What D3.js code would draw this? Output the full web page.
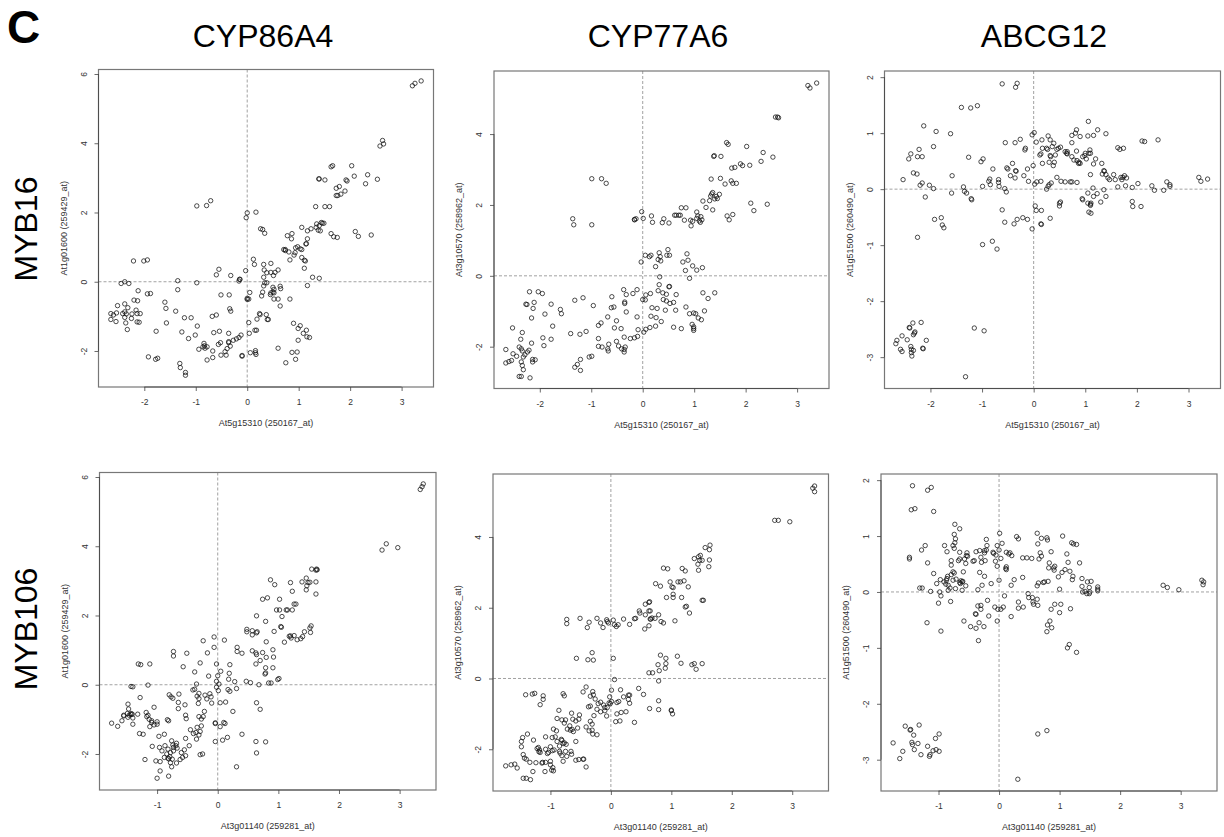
<!DOCTYPE html>
<html>
<head>
<meta charset="utf-8">
<script src="https://cdn.jsdelivr.net/npm/d3@7"></script>
<style>
body { margin: 0; background: #fff; }
text { font-family: "Liberation Sans", Arial, Helvetica, sans-serif; }
</style>
</head>
<body>
<div id="viz"></div>
<script>
var w = 1224;
var h = 837;

// labels
var panelLetter = "C";
var genes = ["CYP86A4", "CYP77A6", "ABCG12"];
var regulators = ["MYB16", "MYB106"];
var xLabels = ["At5g15310 (250167_at)", "At3g01140 (259281_at)"];
var yLabels = ["At1g01600 (259429_at)", "At3g10570 (258962_at)", "At1g51500 (260490_at)"];

// axis limits and ticks
var xTicksByRow = [[-2, -1, 0, 1, 2, 3], [-1, 0, 1, 2, 3]];
var yTicksByCol = [[-2, 0, 2, 4, 6], [-2, 0, 2, 4], [-3, -2, -1, 0, 1, 2]];
var xLimByRow = [[-2.89, 3.62], [-1.95, 3.60]];
var yLimByCol = [[-3.04, 6.13], [-3.18, 5.78], [-3.56, 2.11]];

// MYB16 (At5g15310) vs CYP86A4
var myb16Cyp86a4 = [[3.21,5.66],[3.26,5.73],[3.38,5.80],[2.58,3.92],[2.63,4.08],[2.65,3.98],
[1.63,3.32],[1.66,3.35],[2.03,3.35],[2.08,3.05],[2.34,3.09],[2.30,2.83],[2.53,2.96],
[1.39,2.97],[1.40,2.97],[1.51,2.94],[1.73,2.70],[1.79,2.75],[1.73,2.49],[1.76,2.49],[1.82,2.53],[1.90,2.62],[1.92,2.94],[1.94,2.91],
[1.33,2.17],[1.51,2.17],[1.60,2.17],[1.06,1.57],[1.24,1.53],[1.34,1.57],[1.40,1.62],[1.44,1.71],[1.46,1.69],[1.49,1.69],[1.17,1.47],[1.35,1.67],[1.38,1.49],[1.42,1.47],
[1.63,1.39],[1.68,1.30],[1.75,1.28],[2.10,1.45],[2.16,1.31],[2.41,1.35],[0.78,1.33],[0.87,1.39],[0.86,1.24],[1.17,1.24],[1.14,1.09],[1.15,1.10],
[0.71,0.93],[0.74,0.93],[0.74,0.90],[0.81,0.86],[0.93,0.84],[0.91,0.77],[0.94,0.98],[0.98,1.01],[1.03,0.95],[1.06,0.93],
[0.83,0.63],[1.06,0.70],[1.11,0.62],[1.13,0.60],[1.11,0.39],[1.27,0.13],[1.40,0.10],[1.17,-0.11],
[0.26,1.53],[0.30,1.51],[0.34,1.40],[0.00,1.99],[-0.02,1.85],[0.17,2.01],[-0.98,2.19],[-0.79,2.20],[-0.71,2.34],
[-2.21,0.60],[-2.01,0.60],[-1.94,0.63],[0.12,0.65],[0.14,0.50],[-0.03,0.32],[0.32,0.50],[0.46,0.53],[0.33,0.34],[0.38,0.26],[0.46,0.27],[0.54,0.27],[0.60,0.34],[0.51,0.18],[0.32,0.13],
[0.32,-0.12],[0.34,-0.03],[0.38,-0.03],[0.50,-0.16],[0.52,-0.22],[0.64,-0.13],[0.65,-0.20],
[0.46,-0.32],[0.45,-0.37],[0.50,-0.30],[0.52,-0.32],[0.30,-0.30],[0.28,-0.41],[0.52,-0.50],[0.60,-0.50],[0.64,-0.70],[0.83,-0.50],
[0.00,-0.48],[0.03,-0.50],[0.05,-0.31],[-0.15,0.07],[-0.14,0.07],[-0.16,0.02],
[-0.60,0.20],[-0.55,0.36],[-0.32,0.18],[-1.35,0.03],[-0.98,-0.03],[-0.51,-0.38],[-0.35,-0.38],[-1.35,-0.23],
[-2.45,-0.05],[-2.38,0.00],[-2.30,-0.05],[-2.12,-0.26],[-1.94,-0.35],[-1.88,-0.34],[-2.20,-0.53],[-2.13,-0.55],[-2.52,-0.69],[-2.38,-0.64],
[-2.65,-0.92],[-2.60,-0.96],[-2.54,-0.90],[-2.42,-0.92],[-2.38,-0.87],[-2.35,-0.93],[-2.32,-0.75],[-2.38,-1.03],
[-2.65,-1.09],[-2.55,-1.15],[-2.36,-1.19],[-2.33,-1.38],[-2.25,-1.06],[-2.24,-0.93],[-2.16,-0.82],[-2.14,-0.92],[-2.08,-0.92],[-2.14,-1.16],[-2.10,-1.17],
[-1.60,-0.59],[-1.58,-0.77],[-1.57,-1.19],[-1.39,-0.85],[-1.22,-1.04],[-1.09,-1.04],
[-1.77,-1.43],[-1.27,-1.45],[-1.14,-1.64],[-1.01,-1.54],[-0.97,-1.28],
[-0.68,-1.00],[-0.60,-0.96],[-0.34,-0.78],[-0.32,-0.85],[-0.65,-1.47],[-0.54,-1.43],[-0.36,-1.49],
[-0.84,-1.78],[-0.83,-1.85],[-0.86,-1.88],[-0.94,-1.95],[-0.82,-1.92],[-0.78,-1.88],
[-0.78,-2.26],[-0.67,-2.19],[-0.67,-2.00],[-0.52,-1.76],[-0.56,-1.81],[-0.51,-2.12],
[-0.36,-1.73],[-0.36,-1.76],[-0.33,-1.86],[-0.39,-1.93],[-0.43,-2.02],[-0.41,-2.12],
[-0.27,-1.69],[-0.21,-1.65],[-0.16,-1.61],[-0.12,-1.54],[-0.10,-2.15],[-0.10,-2.13],
[0.04,-1.49],[0.06,-2.05],[0.16,-1.99],[0.17,-2.10],[0.16,-2.05],[0.03,-1.18],[0.15,-1.40],[0.18,-1.40],[0.19,-1.08],
[0.24,-0.92],[0.25,-0.95],[0.37,-0.95],[0.39,-1.09],[0.41,-1.09],[0.60,-1.92],[0.75,-2.34],[0.87,-2.04],[0.97,-2.03],[0.94,-2.24],
[0.90,-1.20],[0.99,-1.35],[1.03,-1.27],[1.09,-1.49],[1.15,-1.40],[1.16,-1.59],[1.21,-1.61],[0.99,-1.69],
[-1.92,-2.17],[-1.78,-2.24],[-1.74,-2.21],[-1.31,-2.36],[-1.30,-2.48],[-1.20,-2.62],[-1.20,-2.70],[0.00,-0.51]];

// MYB16 vs CYP77A6
var myb16Cyp77a6 = [[3.21,5.37],[3.25,5.30],[3.38,5.44],[2.58,4.48],[2.62,4.48],[2.64,4.46],
[1.63,3.76],[1.66,3.71],[2.02,3.65],[2.34,3.48],[2.53,3.35],[2.30,3.23],[1.38,3.37],[1.39,3.39],[1.52,3.37],
[1.90,3.16],[1.94,3.11],[2.08,3.12],[1.73,3.04],[1.79,3.06],[1.33,2.73],[1.51,2.75],[1.72,2.68],[1.60,2.59],[1.75,2.61],[1.82,2.61],
[1.34,2.31],[1.36,2.35],[1.32,2.25],[1.43,2.24],[1.45,2.18],[1.49,2.30],[1.40,2.17],[1.17,2.11],[1.30,2.12],[1.23,1.93],[1.36,1.86],
[2.10,2.05],[2.16,1.84],[2.42,2.02],[1.64,1.69],[1.68,1.58],[1.75,1.73],
[0.75,1.92],[0.84,1.92],[1.05,1.80],[1.07,1.69],[1.10,1.55],[1.12,1.51],[1.15,1.58],[1.13,1.67],[0.94,1.41],[0.97,1.54],[1.05,1.62],[0.93,1.57],
[0.62,1.71],[0.65,1.71],[0.70,1.71],[0.73,1.71],[0.81,1.57],[0.41,1.61],[0.38,1.50],[0.51,1.49],[0.17,1.69],[0.19,1.51],[-0.02,1.81],[0.01,1.62],
[-0.16,1.59],[-0.13,1.61],[-0.16,1.58],[-1.36,1.61],[-1.34,1.44],[-0.99,2.74],[-0.80,2.74],[-0.71,2.61],[-0.99,1.44],
[0.05,0.58],[0.13,0.54],[0.16,0.58],[-0.03,0.39],[0.32,0.65],[0.34,0.54],[0.30,0.46],[0.35,0.42],[0.25,0.26],[0.49,0.74],[0.47,0.58],[0.52,0.58],
[0.86,0.62],[0.88,0.44],[0.78,0.39],[0.83,0.15],[0.91,-0.07],[0.97,0.28],[1.05,0.16],[1.16,0.23],[0.33,-0.03],[0.32,-0.25],[0.51,-0.31],[0.52,-0.30],
[1.17,-0.48],[1.27,-0.64],[1.40,-0.48],[0.30,-0.42],[0.39,-0.48],[0.46,-0.52],[0.65,-0.53],[0.06,-0.54],[0.15,-0.50],[0.00,-0.67],[0.05,-0.68],
[0.40,-0.67],[0.46,-0.71],[0.53,-0.78],[0.60,-0.75],[0.18,-0.90],[0.28,-0.92],[0.44,-0.97],[0.64,-0.97],
[0.84,-0.88],[0.91,-1.07],[0.99,-1.05],[1.03,-1.07],[1.08,-1.19],[1.14,-1.24],[1.20,-0.99],
[0.16,-1.14],[0.26,-1.18],[0.36,-1.29],[0.25,-1.42],[0.14,-1.46],[0.06,-1.51],[0.60,-1.45],[0.75,-1.49],[0.96,-1.37],[0.99,-1.44],[0.99,-1.49],[0.99,-1.54],
[0.02,-1.59],[-0.09,-1.52],[-0.11,-1.16],[-0.11,-0.39],[-0.19,-0.50],[-0.32,-0.53],[-0.37,-0.39],[-0.35,-0.74],[-0.35,-0.78],[-0.32,-1.02],
[-0.60,-0.59],[-0.56,-0.88],[-0.61,-0.90],[-0.68,-1.16],[-0.51,-1.27],[-0.55,-1.47],[-0.42,-1.49],[-0.24,-1.77],[-0.16,-1.75],[-0.10,-1.71],
[-0.51,-1.85],[-0.47,-1.98],[-0.41,-2.06],[-0.36,-1.73],[-0.34,-2.01],[-0.36,-2.08],[-0.36,-2.15],[-1.16,-0.62],[-0.96,-0.84],
[-1.32,-0.69],[-1.40,-1.63],[-1.22,-1.65],[-1.10,-1.57],[-0.86,-1.40],[-0.81,-1.33],[-0.86,-1.77],[-0.86,-1.99],[-0.79,-2.01],[-0.68,-2.06],[-0.67,-2.12],[-0.66,-1.93],
[-1.04,-2.29],[-0.99,-2.27],[-1.32,-2.58],[-1.27,-2.50],[-1.21,-2.36],[-1.21,-2.67],
[-2.20,-0.45],[-2.13,-0.92],[-2.11,-0.75],[-1.95,-0.50],[-2.03,-0.45],[-2.27,-0.80],[-2.25,-0.81],
[-1.90,-1.08],[-1.78,-0.80],[-1.60,-0.95],[-1.58,-1.07],[-1.75,-1.42],[-1.94,-1.75],[-1.92,-1.97],[-1.78,-1.79],
[-2.16,-1.19],[-2.16,-1.90],[-2.34,-1.60],[-2.37,-1.79],[-2.53,-1.47],[-2.66,-2.08],[-2.66,-2.46],[-2.60,-2.42],[-2.55,-2.39],[-2.52,-2.20],
[-2.45,-2.27],[-2.40,-2.01],[-2.36,-2.06],[-2.34,-2.12],[-2.32,-2.29],[-2.29,-2.23],[-2.24,-2.15],[-2.21,-2.10],
[-2.36,-2.43],[-2.34,-2.53],[-2.32,-2.65],[-2.40,-2.84],[-2.36,-2.84],[-2.19,-2.88],[-2.14,-2.36],[-2.09,-2.37],[-2.14,-2.43]];

// MYB16 vs ABCG12
var myb16Abcg12 = [[-0.61,1.88],[-0.35,1.82],[-0.32,1.89],[-1.40,1.46],[-1.22,1.45],[-1.09,1.49],[-2.13,1.13],[-1.89,1.03],[-1.61,0.99],[-1.94,0.76],
[-2.38,0.63],[-2.42,0.54],[-2.22,0.71],[-2.16,0.58],[-2.25,0.58],[-2.33,0.29],[-2.26,0.27],[-2.53,0.17],[-2.16,0.11],[-2.20,0.07],[-2.02,0.07],[-1.94,0.01],[-2.10,-0.14],
[-2.25,-0.86],[-1.92,-0.54],[-1.79,-0.51],[-1.77,-0.64],[-1.74,-0.69],[-1.58,0.24],[-1.59,-0.07],[-1.26,0.57],[-1.36,0.04],[-1.34,-0.04],[-1.30,-0.07],[-1.21,-0.17],[-1.20,-0.19],
[-0.98,0.54],[-1.02,0.49],[-0.99,0.05],[-0.79,0.36],[-0.85,0.18],[-0.87,0.14],[-0.84,0.08],[-0.68,0.17],[-0.68,0.12],[-0.67,0.05],
[-0.99,-0.99],[-0.80,-0.93],[-0.71,-1.07],[-0.61,-0.37],[-0.56,-0.59],[-0.38,-0.62],[-0.32,-0.54],[-0.21,-0.51],[-0.12,-0.54],[-0.03,-0.71],
[-0.55,0.83],[-0.36,0.83],[-0.26,0.89],[-0.16,0.73],[-0.17,0.70],[-0.41,0.46],[-0.52,0.38],[-0.50,0.36],[-0.45,0.24],[-0.35,0.33],[-0.34,0.32],[-0.36,0.20],[-0.19,0.24],
[-0.12,0.36],[-0.10,0.14],[-0.01,0.42],[-0.56,0.01],[-0.53,-0.05],[-0.03,0.97],[0.01,1.01],[0.05,0.84],[0.02,0.09],[0.06,0.13],[0.14,0.14],
[0.03,-0.30],[0.05,-0.38],[0.15,-0.38],[0.14,-0.62],[0.15,-0.63],[0.32,-0.52],
[0.16,0.88],[0.28,0.95],[0.32,0.88],[0.39,0.82],[0.17,0.73],[0.25,0.73],[0.36,0.76],[0.27,0.71],[0.12,0.61],[0.14,0.63],[0.32,0.60],[0.42,0.61],[0.45,0.71],[0.48,0.73],[0.52,0.75],
[0.17,0.46],[0.30,0.48],[0.38,0.42],[0.40,0.48],[0.33,0.58],[0.28,0.05],[0.30,0.08],[0.34,0.11],[0.25,0.00],[0.45,0.21],[0.53,0.14],[0.61,0.13],[0.71,0.13],[0.74,0.13],
[0.50,-0.25],[0.50,-0.30],[0.52,-0.23],[0.61,0.67],[0.64,0.64],[0.65,0.67],[0.65,0.63],[0.74,0.58],
[0.74,0.96],[0.74,0.83],[0.81,1.00],[0.83,1.06],[0.90,0.94],[1.05,0.95],[1.06,1.21],[1.16,0.96],[1.24,1.06],[1.40,0.99],
[0.78,0.52],[0.84,0.51],[0.87,0.46],[0.88,0.48],[0.83,0.68],[0.90,0.46],[0.95,0.58],[0.99,0.60],[1.02,0.54],[1.07,0.64],[1.10,0.64],[1.00,0.64],[1.09,0.70],[1.16,0.45],[1.20,0.54],[0.84,0.12],
[0.94,-0.17],[0.95,-0.19],[1.05,-0.07],[1.05,-0.25],[1.10,-0.27],[1.11,-0.25],[1.10,-0.29],[1.16,-0.13],[1.23,-0.08],[1.30,-0.23],[1.36,-0.01],[1.40,-0.13],[1.10,0.26],[1.15,0.02],
[1.07,-0.41],[1.11,-0.43],[1.32,0.46],[1.36,0.33],[1.37,0.32],[1.33,0.27],[1.40,0.26],[1.44,0.20],[1.47,0.17],[1.55,0.26],[1.58,0.17],[1.69,0.21],
[1.63,0.74],[1.67,0.71],[1.74,0.73],[1.63,0.04],[1.71,0.17],[1.73,0.21],[1.76,0.24],[1.78,0.06],[1.80,0.20],[1.91,0.03],
[1.91,-0.22],[1.92,-0.31],[2.02,0.10],[2.08,-0.31],[2.10,0.86],[2.15,0.85],[2.41,0.88],
[2.29,0.06],[2.34,-0.02],[2.52,-0.02],[2.58,0.13],[2.64,0.08],[2.64,0.05],[3.20,0.21],[3.24,0.14],[3.37,0.18],
[-2.67,-2.76],[-2.65,-2.70],[-2.58,-2.86],[-2.55,-2.90],[-2.55,-2.62],[-2.45,-2.69],[-2.38,-2.81],[-2.37,-2.86],[-2.37,-2.92],[-2.36,-2.98],[-2.33,-2.88],
[-2.33,-2.60],[-2.34,-2.39],[-2.41,-2.47],[-2.40,-2.48],[-2.30,-2.55],[-2.31,-2.57],[-2.18,-2.38],[-2.15,-2.84],[-2.14,-2.85],[-2.08,-2.70],
[-1.15,-2.48],[-0.96,-2.53],[-1.32,-3.35]];

// MYB106 (At3g01140) vs CYP86A4
var myb106Cyp86a4 = [[3.34,5.64],[3.37,5.72],[3.39,5.80],[2.71,3.89],[2.78,4.07],[2.97,3.96],
[1.55,3.34],[1.62,3.31],[1.63,3.34],[1.64,3.32],[1.62,2.97],[1.62,2.62],[1.46,3.08],[1.52,2.96],[1.46,2.74],[1.47,2.86],[1.49,2.95],[1.39,2.97],[1.20,2.95],[1.26,2.33],[1.29,2.33],[1.23,2.70],
[0.87,3.03],[0.94,2.89],[0.74,2.47],[0.82,2.51],[1.02,2.47],[0.97,2.16],[1.02,2.16],[1.13,2.16],[1.15,2.16],[1.23,2.16],[1.06,1.97],
[0.64,1.99],[0.79,1.83],[0.93,1.54],[1.04,1.68],[1.05,1.66],[1.10,1.23],[1.18,1.40],[1.20,1.41],[1.26,1.42],[1.31,1.30],[1.37,1.33],[1.40,1.39],[1.43,1.53],[1.52,1.64],[1.54,1.70],[1.53,1.51],[1.21,1.35],
[0.48,1.60],[0.48,1.53],[0.57,1.56],[0.64,1.50],[0.57,1.44],[0.65,1.53],[0.57,0.98],[0.63,0.92],[0.64,0.87],[0.74,0.93],[0.80,1.24],[0.91,1.01],[0.80,0.79],[0.92,0.80],
[0.63,0.60],[0.70,0.70],[0.79,0.49],[0.79,0.34],[0.78,0.31],[0.91,0.49],[0.99,0.15],[1.01,0.18],[0.84,0.05],[0.88,0.05],[0.47,0.10],[0.54,0.06],[0.68,0.00],
[0.32,1.08],[0.32,0.96],[0.40,0.91],[0.64,-0.52],[0.70,-0.71],[0.11,1.29],[-0.06,1.38],[-0.06,1.08],[-0.24,1.27],[-0.17,0.92],
[-0.29,0.63],[-0.02,0.60],[0.20,0.58],[0.05,0.39],[0.19,0.33],[0.28,0.09],[0.18,0.16],[0.31,-0.11],[0.20,-0.19],[0.17,-0.14],
[-0.15,0.25],[0.00,0.26],[-0.02,0.10],[0.02,0.02],[-0.02,-0.07],[0.01,-0.17],[-0.73,0.96],[-0.73,0.83],[-0.51,0.91],[-0.57,0.52],
[-1.31,0.60],[-1.27,0.58],[-1.12,0.60],[-1.43,-0.05],[-1.40,-0.06],[-1.15,-0.01],
[-0.38,0.37],[-0.35,0.02],[-0.38,-0.13],[-0.41,-0.15],[-0.31,-0.25],[-0.34,-0.33],[-0.31,-0.40],[-0.32,-0.54],
[-0.21,-0.30],[-0.18,-0.41],[-0.13,-0.26],[-0.11,-0.35],[-0.10,-0.53],[0.04,-0.52],[0.13,-0.50],[0.25,-0.77],[-0.22,-0.77],
[-0.80,-0.29],[-0.77,-0.35],[-0.74,-0.39],[-0.64,-0.27],[-0.65,-0.51],[-0.65,-0.69],[-0.54,-0.58],[-0.53,-0.88],[-0.52,-0.98],
[-1.28,-0.37],[-1.05,-0.65],[-0.83,-1.01],[-0.81,-1.04],[-1.48,-0.56],[-1.47,-0.70],[-1.43,-0.83],[-1.46,-0.88],[-1.43,-0.86],[-1.48,-0.94],[-1.55,-0.90],[-1.41,-0.85],[-1.49,-0.83],[-1.40,-0.96],
[-1.75,-1.11],[-1.65,-1.20],[-1.58,-1.04],[-1.55,-0.88],[-1.32,-0.85],[-1.40,-1.14],
[-1.18,-0.80],[-1.17,-0.92],[-1.15,-0.88],[-1.13,-1.00],[-1.09,-1.09],[-1.05,-1.16],[-1.00,-1.14],[-1.00,-1.07],[-1.09,-1.04],[-1.12,-1.21],
[-1.29,-1.41],[-1.23,-1.43],[-0.97,-1.49],[-0.88,-1.43],[-1.08,-1.78],[-0.96,-1.81],[-0.92,-1.91],[-0.87,-1.76],[-0.82,-1.86],[-0.84,-2.00],[-0.88,-2.10],
[-0.76,-1.62],[-0.74,-1.74],[-0.73,-1.81],[-0.69,-1.76],[-0.67,-1.83],[-0.68,-1.69],[-0.73,-1.91],[-0.78,-1.96],[-0.79,-2.08],[-0.82,-2.12],[-0.81,-2.14],[-0.75,-2.15],[-0.78,-2.25],
[-0.68,-2.26],[-0.62,-2.16],[-0.60,-1.96],[-0.58,-2.10],[-0.55,-1.88],[-0.53,-1.55],[-0.47,-1.76],[-0.53,-2.05],
[-1.20,-2.16],[-1.02,-2.20],[-0.95,-2.22],[-0.95,-2.49],[-1.00,-2.70],[-0.81,-2.64],[-0.76,-2.37],
[-0.45,-1.30],[-0.40,-1.41],[-0.36,-1.38],[-0.34,-1.23],[-0.29,-1.35],[-0.27,-1.19],[-0.31,-1.45],[-0.35,-1.57],[-0.29,-2.02],[-0.25,-2.00],
[-0.31,-0.92],[-0.27,-0.99],[-0.24,-0.92],[-0.04,-1.10],[-0.04,-1.12],[0.10,-1.09],[0.12,-1.12],[0.04,-1.21],[0.08,-1.60],[-0.04,-1.64],[0.16,-1.52],
[0.40,-1.43],[0.63,-1.64],[0.64,-1.97],[0.31,-2.37],[0.79,-1.65]];

// MYB106 vs CYP77A6
var myb106Cyp77a6 = [[3.34,5.38],[3.37,5.44],[3.37,5.28],[2.71,4.47],[2.77,4.47],[2.96,4.43],
[1.56,3.70],[1.64,3.77],[1.63,3.64],[1.63,3.35],[1.62,3.16],[1.45,3.44],[1.48,3.48],[1.47,3.34],[1.51,3.34],[1.44,3.23],[1.45,3.06],[1.38,3.39],
[0.87,3.12],[0.94,3.10],[1.18,3.11],[1.23,3.04],[1.28,2.59],[0.74,2.68],[0.82,2.61],[0.98,2.73],[1.01,2.59],[1.03,2.57],[1.11,2.73],[1.15,2.73],[1.21,2.76],
[0.92,2.29],[1.03,2.29],[1.03,2.38],[1.17,2.29],[1.23,2.02],[1.25,2.04],[1.30,1.85],[1.51,2.21],[1.53,2.21],
[0.57,2.10],[0.63,2.15],[0.64,2.17],[0.63,1.91],[0.65,1.91],[0.47,1.91],[0.48,1.85],[0.57,1.80],[0.79,1.80],[1.06,1.63],
[0.56,1.40],[0.63,1.49],[0.66,1.68],[0.68,1.71],[0.73,1.70],[0.83,1.61],[0.87,1.57],[0.65,1.68],
[0.39,1.69],[0.41,1.70],[0.21,1.68],[0.31,1.53],[0.12,1.52],[0.09,1.47],[0.06,1.52],[0.04,1.65],[-0.07,1.66],[-0.04,1.57],[-0.06,1.61],
[-0.23,1.70],[-0.17,1.57],[-0.13,1.44],[-0.36,1.59],[-0.39,1.44],[-0.51,1.70],[-0.73,1.67],[-0.73,1.55],
[-0.57,0.57],[-0.38,0.53],[-0.31,0.73],[-0.29,0.52],[0.04,0.57],
[0.82,0.66],[0.91,0.57],[0.91,0.42],[0.90,0.29],[0.78,0.39],[0.80,0.22],[0.79,-0.07],[0.63,0.16],[0.69,0.16],
[1.10,0.63],[1.16,0.43],[1.34,0.39],[1.38,0.42],[1.41,0.26],[1.51,0.42],[0.06,-0.03],
[0.46,-0.28],[0.54,-0.45],[0.79,-0.63],[0.79,-0.88],[0.64,-0.85],[1.00,-0.91],[1.02,-1.00],[1.00,-0.89],[0.39,-1.24],
[0.01,-0.33],[0.16,-0.32],[-0.02,-0.52],[-0.03,-0.69],[-0.01,-0.71],[0.01,-0.65],[0.10,-0.68],[0.21,-0.52],[0.13,-0.65],[0.29,-0.47],[0.31,-0.47],[0.29,-0.59],[0.31,-0.70],[0.25,-0.94],[0.17,-0.96],[0.15,-1.20],[0.08,-1.22],[0.10,-1.00],
[-0.41,-0.24],[-0.46,-0.38],[-0.30,-0.37],[-0.34,-0.50],[-0.29,-0.46],[-0.26,-0.58],[-0.21,-0.71],[-0.17,-0.67],[-0.12,-0.75],[-0.10,-0.82],[-0.23,-0.87],[-0.17,-0.94],[-0.07,-1.06],[-0.10,-0.91],[-0.06,-0.82],
[-0.37,-0.80],[-0.34,-0.78],[-0.28,-1.05],[-0.52,-1.03],[-0.53,-1.15],[-0.58,-1.20],[-0.34,-1.21],[-0.31,-1.29],[-0.30,-1.57],[-0.23,-1.59],[-0.31,-1.46],[-0.36,-1.48],[-0.41,-1.37],
[-0.65,-0.98],[-0.63,-1.15],[-0.68,-1.34],[-0.72,-1.43],[-0.67,-1.46],[-0.64,-1.44],[-0.62,-1.50],[-0.55,-1.40],[-0.75,-1.17],[-0.77,-1.26],[-0.81,-1.17],[-0.89,-1.13],[-0.86,-0.90],
[-0.79,-0.43],[-0.77,-0.49],[-0.95,-1.43],[-0.90,-1.48],[-0.97,-1.67],[-0.92,-1.65],[-0.82,-1.72],[-0.81,-1.75],[-0.79,-1.84],[-0.77,-1.82],[-0.74,-1.86],[-0.89,-1.78],[-0.85,-1.91],
[-0.94,-2.02],[-0.85,-2.06],[-0.84,-2.11],[-0.81,-2.18],[-0.75,-2.06],[-0.73,-2.20],[-0.65,-2.14],[-0.58,-1.78],[-0.46,-2.28],[-0.41,-2.50],[-0.45,-2.28],[-0.79,-2.34],
[-1.08,-1.65],[-1.08,-2.00],[-1.00,-1.93],[-0.97,-2.04],[-1.05,-2.12],[-1.03,-2.09],[-1.13,-2.37],[-1.08,-2.37],[-1.00,-2.34],[-1.00,-2.44],[-0.98,-2.59],[-0.96,-2.52],[-0.66,-2.06],[-0.58,-2.31],[-0.53,-2.29],
[-1.41,-0.46],[-1.30,-0.44],[-1.26,-0.42],[-1.12,-0.49],[-1.12,-0.59],[-1.17,-0.74],
[-1.38,-1.57],[-1.46,-1.67],[-1.48,-1.78],[-1.48,-1.93],[-1.45,-2.15],[-1.43,-2.25],[-1.40,-2.28],[-1.34,-2.37],[-1.28,-1.74],[-1.22,-1.98],[-1.20,-1.95],[-1.18,-2.02],[-1.19,-2.07],[-1.17,-2.09],[-1.14,-2.39],[-1.29,-2.63],[-1.24,-2.38],
[-1.74,-2.47],[-1.65,-2.44],[-1.59,-2.42],[-1.55,-2.53],[-1.45,-2.82],[-1.40,-2.82],[-1.33,-2.86],[-1.09,-2.63],[-0.95,-2.61]];

// MYB106 vs ABCG12
var myb106Abcg12 = [[-1.43,1.90],[-1.18,1.82],[-1.12,1.87],[-1.45,1.47],[-1.39,1.49],[-1.08,1.44],
[-0.73,1.21],[-0.65,1.13],[-0.74,1.03],[-0.72,0.95],[-0.73,0.88],[-0.76,0.83],[-0.74,0.78],[-0.90,0.83],[-0.86,0.72],[-1.22,0.83],[-1.28,0.75],[-1.48,0.62],[-1.48,0.59],
[-1.18,0.52],[-1.08,0.33],[-1.31,0.07],[-1.27,0.07],[-1.13,0.01],[-1.19,-0.55],[-0.96,-0.70],[-1.00,-0.20],[-0.98,0.00],[-0.96,-0.07],[-1.03,0.15],
[-0.97,0.22],[-0.91,0.18],[-0.88,0.14],[-0.87,0.21],[-0.86,0.24],[-0.85,0.28],[-0.84,0.12],[-0.84,0.03],[-0.81,0.07],[-0.80,-0.17],[-0.79,0.48],[-0.79,0.56],[-0.79,0.31],
[-0.76,0.36],[-0.74,0.34],[-0.76,0.21],[-0.71,0.23],[-0.72,0.06],[-0.67,0.56],[-0.65,0.71],[-0.65,0.59],[-0.61,0.18],[-0.65,0.17],[-0.64,0.15],[-0.63,0.20],[-0.61,0.03],
[-0.53,0.70],[-0.52,0.64],[-0.55,0.51],[-0.57,0.59],[-0.54,0.65],[-0.59,0.36],[-0.60,0.19],[-0.55,0.11],[-0.58,-0.52],[-0.47,-0.62],[-0.38,-0.65],[-0.33,-0.55],[-0.34,-0.87],[-0.39,-0.39],[-0.35,-0.25],[-0.30,-0.24],
[-0.43,0.55],[-0.41,0.56],[-0.38,0.72],[-0.32,0.74],[-0.30,0.62],[-0.29,0.53],[-0.24,0.74],[-0.21,0.75],[-0.24,0.70],[-0.20,0.83],[-0.21,0.94],[-0.23,0.56],[-0.28,0.12],[-0.35,0.04],[-0.30,-0.31],[-0.38,-0.40],[-0.32,0.35],[-0.24,0.28],
[-0.19,-0.15],[-0.17,-0.43],[-0.25,-0.62],[-0.13,0.15],[-0.10,0.71],[-0.09,0.69],[-0.06,0.55],[-0.05,0.66],[-0.03,0.46],[-0.03,0.83],[0.00,0.75],[0.01,1.05],[0.05,0.87],[0.03,0.60],[0.00,0.21],
[-0.07,-0.27],[-0.02,-0.31],[-0.03,-0.52],[0.03,-0.31],[0.07,-0.27],[0.09,-0.07],[0.11,0.42],[0.12,0.40],[0.12,0.71],[0.16,0.68],[0.18,0.70],[0.21,0.65],[0.12,0.45],[0.20,0.12],[0.20,-0.44],[0.25,0.22],
[0.29,0.99],[0.32,0.95],[0.39,0.61],[0.46,0.61],[0.54,0.60],[0.39,0.26],[0.32,-0.18],[0.32,-0.29],[0.40,-0.27],[0.48,-0.03],[0.49,-0.10],[0.55,-0.10],[0.56,-0.18],[0.57,-0.22],[0.63,-0.13],[0.64,-0.24],
[0.63,0.11],[0.65,0.16],[0.73,0.17],[0.75,0.18],[0.66,0.59],[0.68,0.70],[0.70,0.64],[0.63,1.05],[0.64,0.86],[0.70,0.96],[0.79,0.97],[0.80,0.93],[0.86,0.72],[0.83,0.52],[0.82,0.43],[0.90,0.43],[0.92,0.46],[0.91,0.39],[0.81,0.19],
[0.86,-0.31],[0.87,-0.64],[0.79,-0.71],[0.80,-0.59],[0.84,-0.52],[0.92,-0.22],[1.00,-0.37],[1.02,-0.22],[1.00,0.05],[1.04,0.35],[0.98,0.27],[1.09,0.40],[1.14,0.53],[1.12,0.68],[1.17,0.37],[1.18,-0.30],
[1.20,0.88],[1.23,0.86],[1.28,0.85],[1.22,0.28],[1.21,0.22],[1.33,0.52],[1.37,0.24],[1.37,0.10],[1.38,0.00],[1.42,0.01],[1.45,-0.03],[1.46,0.18],[1.49,0.08],[1.52,0.19],[1.49,-0.03],[1.50,0.00],[1.63,0.09],[1.63,0.05],[1.63,0.02],
[1.13,-1.00],[1.16,-0.94],[1.28,-1.08],[1.05,1.00],
[2.71,0.12],[2.78,0.08],[2.97,0.04],[3.35,0.21],[3.37,0.13],[3.38,0.18],
[-1.75,-2.70],[-1.64,-2.98],[-1.59,-2.85],[-1.55,-2.40],[-1.47,-2.47],[-1.46,-2.46],[-1.44,-2.69],[-1.43,-2.73],[-1.41,-2.56],[-1.40,-2.82],[-1.34,-2.71],
[-1.32,-2.38],[-1.29,-2.91],[-1.18,-2.76],[-1.15,-2.94],[-1.14,-2.91],[-1.09,-2.84],[-1.05,-2.62],[-1.04,-2.82],[-0.99,-2.54],[-0.99,-2.85],
[0.64,-2.54],[0.79,-2.48],[0.31,-3.35]];

var panelData = [[myb16Cyp86a4, myb16Cyp77a6, myb16Abcg12], [myb106Cyp86a4, myb106Cyp77a6, myb106Abcg12]];

// plot frames (pixel boxes)
var boxes = [
    [{x0: 98.5, x1: 433.5, y0: 69.5, y1: 387}, {x0: 494, x1: 829, y0: 71, y1: 388.5}, {x0: 884.5, x1: 1220.5, y0: 71, y1: 388.5}],
    [{x0: 99.5, x1: 436, y0: 472.5, y1: 790}, {x0: 493, x1: 828.5, y0: 474, y1: 791}, {x0: 881, x1: 1217, y0: 474, y1: 791}]
];

// R style tick labels: plain integers with a hyphen for negatives
var tickFmt = function (d) { return d < 0 ? "-" + Math.abs(d) : String(d); };

var svg = d3.select("#viz")
    .append("svg")
    .attr("width", w)
    .attr("height", h);

svg.append("rect").attr("width", w).attr("height", h).attr("fill", "#fff");

// panel letter, column and row titles
svg.append("text")
    .attr("x", 7)
    .attr("y", 43)
    .attr("font-size", 46)
    .attr("font-weight", "bold")
    .text(panelLetter);

var colCenters = [263, 658, 1044];
svg.selectAll("text.gene")
    .data(genes)
    .enter()
    .append("text")
    .attr("class", "gene")
    .attr("x", function (d, i) { return colCenters[i]; })
    .attr("y", 47)
    .attr("text-anchor", "middle")
    .attr("font-size", 32)
    .text(function (d) { return d; });

var rowCenters = [229, 629];
svg.selectAll("text.reg")
    .data(regulators)
    .enter()
    .append("text")
    .attr("class", "reg")
    .attr("transform", function (d, i) { return "translate(37," + rowCenters[i] + ") rotate(-90)"; })
    .attr("text-anchor", "middle")
    .attr("font-size", 32)
    .text(function (d) { return d; });

// draw each scatter panel
regulators.forEach(function (reg, r) {
    genes.forEach(function (gene, c) {
        var b = boxes[r][c];
        var pts = panelData[r][c];

        var x = d3.scaleLinear().domain(xLimByRow[r]).range([b.x0, b.x1]);
        var y = d3.scaleLinear().domain(yLimByCol[c]).range([b.y1, b.y0]);

        var g = svg.append("g").attr("class", "panel");

        // reference lines at zero
        g.append("line")
            .attr("x1", x(0)).attr("x2", x(0))
            .attr("y1", b.y0).attr("y2", b.y1)
            .attr("stroke", "#8a8a8a")
            .attr("stroke-width", 0.8)
            .attr("stroke-dasharray", "3,2");
        g.append("line")
            .attr("x1", b.x0).attr("x2", b.x1)
            .attr("y1", y(0)).attr("y2", y(0))
            .attr("stroke", "#8a8a8a")
            .attr("stroke-width", 0.8)
            .attr("stroke-dasharray", "3,2");

        // points
        g.append("g").selectAll("circle")
            .data(pts)
            .enter()
            .append("circle")
            .attr("cx", function (d) { return x(d[0]); })
            .attr("cy", function (d) { return y(d[1]); })
            .attr("r", 2.2)
            .attr("fill", "none")
            .attr("stroke", "#111")
            .attr("stroke-width", 0.75);

        // box
        g.append("rect")
            .attr("x", b.x0).attr("y", b.y0)
            .attr("width", b.x1 - b.x0).attr("height", b.y1 - b.y0)
            .attr("fill", "none")
            .attr("stroke", "#777")
            .attr("stroke-width", 1.2);

        // x axis
        var xt = xTicksByRow[r];
        var gx = g.append("g")
            .attr("transform", "translate(0," + b.y1 + ")")
            .call(d3.axisBottom(x).tickValues(xt).tickFormat(tickFmt).tickSize(4).tickSizeOuter(0).tickPadding(8));
        gx.select(".domain").remove();
        gx.append("line")
            .attr("x1", x(xt[0])).attr("x2", x(xt[xt.length - 1]))
            .attr("stroke", "#444").attr("stroke-width", 0.8);
        gx.selectAll(".tick line").attr("stroke", "#444").attr("stroke-width", 0.8);
        gx.selectAll(".tick text").attr("fill", "#333").attr("font-size", 8.5)
            .attr("font-family", "'Liberation Sans', Arial, sans-serif");

        // y axis, labels parallel to the axis
        var yt = yTicksByCol[c];
        var gy = g.append("g")
            .attr("transform", "translate(" + b.x0 + ",0)")
            .call(d3.axisLeft(y).tickValues(yt).tickFormat(tickFmt).tickSize(4).tickSizeOuter(0));
        gy.select(".domain").remove();
        gy.append("line")
            .attr("y1", y(yt[0])).attr("y2", y(yt[yt.length - 1]))
            .attr("stroke", "#444").attr("stroke-width", 0.8);
        gy.selectAll(".tick line").attr("stroke", "#444").attr("stroke-width", 0.8);
        gy.selectAll(".tick text")
            .attr("transform", "rotate(-90)")
            .attr("x", 0)
            .attr("y", -12)
            .attr("dy", 0)
            .attr("text-anchor", "middle")
            .attr("fill", "#333")
            .attr("font-size", 8.5)
            .attr("font-family", "'Liberation Sans', Arial, sans-serif");

        // axis titles
        g.append("text")
            .attr("x", (b.x0 + b.x1) / 2)
            .attr("y", b.y1 + 39)
            .attr("text-anchor", "middle")
            .attr("font-size", 9)
            .attr("fill", "#333")
            .text(xLabels[r]);

        g.append("text")
            .attr("transform", "translate(" + (b.x0 - 32) + "," + ((b.y0 + b.y1) / 2) + ") rotate(-90)")
            .attr("text-anchor", "middle")
            .attr("font-size", 9)
            .attr("fill", "#333")
            .text(yLabels[c]);
    });
});
</script>
</body>
</html>
